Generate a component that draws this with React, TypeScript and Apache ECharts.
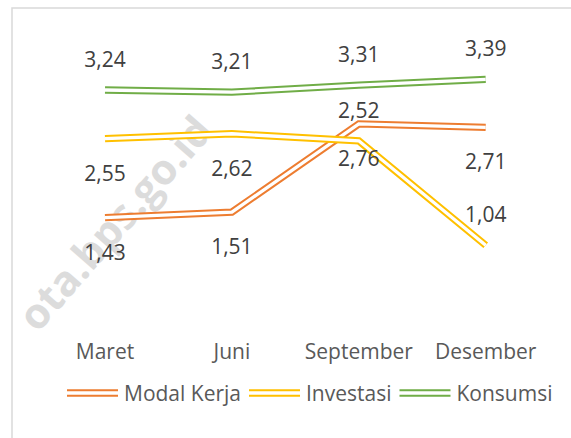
import React, { useEffect, useRef } from "react";
import * as echarts from "echarts";

const categories = ["Maret", "Juni", "September", "Desember"];
const modalKerja = [1.43, 1.51, 2.76, 2.71];
const investasi = [2.55, 2.62, 2.52, 1.04];
const konsumsi = [3.24, 3.21, 3.31, 3.39];
const seriesNames = ["Modal Kerja", "Investasi", "Konsumsi"];

const COLORS = ["#ED7D31", "#FFC000", "#70AD47"];
const FONT = "'Open Sans', 'Noto Sans', sans-serif";
const investasiLabelPos = ["bottom", "bottom", "top", "top"];

const fmt = (v: number) => v.toFixed(2).replace(".", ",");

function labelFor(pos: string) {
  return {
    show: true,
    position: pos,
    distance: pos === "top" ? 20 : 23,
    color: "#404040",
    fontSize: 21,
    lineHeight: 22,
    fontFamily: FONT,
    formatter: (p: any) => fmt(p.value),
  };
}

function makePair(name: string, values: number[], color: string, positions: string[]) {
  const outer = {
    name,
    type: "line",
    data: values.map((v, i) => ({ value: v, label: labelFor(positions[i]) })),
    color,
    symbol: "circle",
    symbolSize: 0,
    lineStyle: { color, width: 7.3, join: "miter" },
    itemStyle: { color },
    emphasis: { disabled: true },
    z: 2,
  };
  const inner = {
    name: name + " ",
    type: "line",
    data: values,
    symbol: "none",
    lineStyle: { color: "#ffffff", width: 3.3, join: "miter" },
    itemStyle: { color: "#ffffff" },
    emphasis: { disabled: true },
    silent: true,
    z: 2,
  };
  return [outer, inner];
}

export default function App() {
  const ref = useRef<HTMLDivElement>(null);
  useEffect(() => {
    if (!ref.current) return;
    const chart = echarts.init(ref.current, null, { renderer: "svg" });
    const series = [
      ...makePair(seriesNames[0], modalKerja, COLORS[0], ["bottom", "bottom", "bottom", "bottom"]),
      ...makePair(seriesNames[1], investasi, COLORS[1], investasiLabelPos),
      ...makePair(seriesNames[2], konsumsi, COLORS[2], ["top", "top", "top", "top"]),
    ];
    chart.setOption({
      animation: false,
      backgroundColor: "#ffffff",
      graphic: [
        {
          type: "rect",
          shape: { x: 12, y: 8, width: 620, height: 500 },
          style: { fill: "none", stroke: "#d9d9d9", lineWidth: 1.5 },
          z: -10,
          silent: true,
        },
        {
          type: "text",
          x: 114,
          y: 222,
          rotation: 0.85,
          z: -5,
          silent: true,
          style: {
            text: "ota.bps.go.id",
            align: "center",
            verticalAlign: "middle",
            font: "bold 42px 'Open Sans', sans-serif",
            fill: "#dcdcdc",
          },
        },
      ],
      grid: { left: 41.55, right: 21.85, top: 36.4, bottom: 119.4, containLabel: false },
      legend: {
        data: seriesNames,
        left: 67,
        top: 382,
        padding: 0,
        itemWidth: 51,
        itemHeight: 7.3,
        itemGap: 8,
        icon: "path://M0,0H51V2H0Z M0,5.3H51V7.3H0Z",
        textStyle: { color: "#595959", fontSize: 21, lineHeight: 22, fontFamily: FONT, padding: [0, 0, 0, 1] },
        selectedMode: false,
      },
      xAxis: {
        type: "category",
        data: categories,
        boundaryGap: true,
        axisLine: { show: false },
        axisTick: { show: false },
        axisLabel: { interval: 0, color: "#595959", fontSize: 21, lineHeight: 22, fontFamily: FONT, margin: 21 },
        splitLine: { show: false },
      },
      yAxis: {
        type: "value",
        min: 0,
        max: 4,
        interval: 0.5,
        show: false,
        splitLine: { show: false },
      },
      series,
    });
    return () => chart.dispose();
  }, []);
  return (
    <div
      ref={ref}
      style={{ position: "absolute", left: 0, top: 0, width: 571, height: 438, background: "#fff" }}
    />
  );
}
